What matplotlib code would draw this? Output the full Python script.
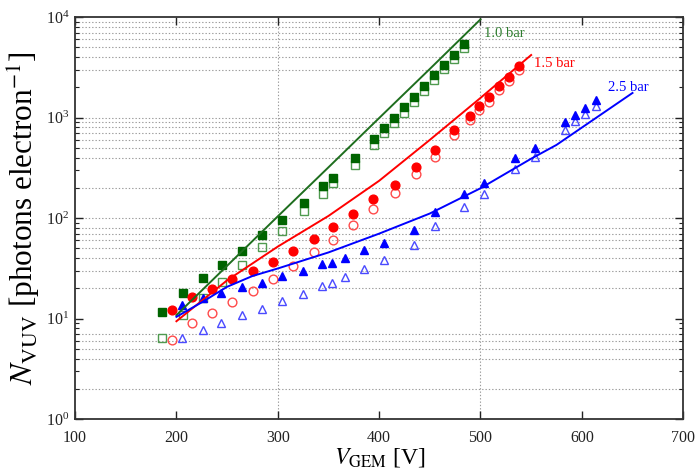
import matplotlib
matplotlib.use("Agg")
import matplotlib.pyplot as plt
from matplotlib.ticker import LogLocator, FixedLocator, NullFormatter, LogFormatterMathtext

plt.rcParams['font.family'] = ['Liberation Serif', 'DejaVu Serif']
plt.rcParams['mathtext.fontset'] = 'stix'

# ---- data: 1.0 bar (green squares) ----
v_1bar = [185.4, 206.1, 226.4, 245.1, 265.2, 284.9, 304.6, 325.6, 344.6, 354.5, 375.9,
          394.6, 404.4, 414.3, 424.4, 434.3, 444.1, 454.0, 463.8, 473.7, 483.5]
n_1bar_filled = [11.7, 18.1, 25.1, 34.1, 47, 67.3, 95.5, 141, 208, 248, 395,
                 607, 792, 995, 1262, 1610, 2057, 2630, 3351, 4218, 5385]
n_1bar_open = [6.44, 10.8, 15.9, 23.2, 34.1, 51.1, 74.8, 116.6, 173, 221, 340,
               529, 696, 875, 1116, 1426, 1835, 2362, 3018, 3796, 4883]

# ---- data: 1.5 bar (red circles) ----
v_15bar = [195.3, 215.0, 234.7, 255.0, 275.7, 295.4, 315.1, 335.8, 354.5, 374.2, 393.9,
           415.3, 436.0, 454.7, 473.9, 489.2, 499.0, 508.2, 518.7, 528.6, 538.4]
n_15bar_filled = [12.2, 16.5, 19.8, 24.6, 29.8, 36.9, 47.5, 61.8, 81.9, 109.6, 153.5,
                  214, 324, 472, 756, 1042, 1301, 1588, 2071, 2546, 3252]
n_15bar_open = [6.11, 8.96, 11.4, 14.7, 18.9, 24.5, 33.3, 45.9, 60.8, 85.2, 122,
                176, 272, 407, 670, 944, 1188, 1436, 1879, 2307, 2970]

# ---- data: 2.5 bar (blue triangles) ----
v_25bar = [205.1, 226.4, 243.8, 265.2, 284.9, 304.6, 324.9, 344.0, 353.9, 366.0, 385.0,
           404.4, 434.3, 454.7, 484.2, 503.9, 534.2, 553.9, 583.7, 593.6, 603.4, 613.9]
n_25bar_filled = [13.6, 16.1, 17.8, 20.7, 22.7, 26.5, 29.9, 34.6, 36.1, 40.2, 48.0,
                  56.8, 76.9, 116, 173, 224, 395, 498, 896, 1059, 1244, 1494]
n_25bar_open = [6.35, 7.69, 9.09, 10.8, 12.4, 14.9, 17.5, 21.1, 22.4, 25.7, 31.1,
                38.2, 53.5, 83.8, 129, 175, 310, 402, 751, 923, 1083, 1310]

# ---- model curves ----
v_model_1bar = [200, 250, 300, 350, 400, 450, 500]
n_model_1bar = [10.8, 33.5, 104, 320, 990, 3050, 9500]
v_model_15bar = [200, 250, 300, 350, 400, 450, 500, 550]
n_model_15bar = [9.4, 24, 52, 105, 235, 600, 1570, 4200]
v_model_25bar = [200, 225, 250, 275, 300, 350, 400, 450, 500, 550, 575, 650]
n_model_25bar = [10.4, 14.5, 20.7, 26.5, 31.5, 45.5, 70, 111, 198, 390, 535, 1760]

labels = ['1.0 bar', '1.5 bar', '2.5 bar']
label_pos_v = [503, 553, 626]
label_pos_n = [6900, 3450, 2000]

x_ticks = [100, 200, 300, 400, 500, 600, 700]
y_grid = [2, 4, 5, 6, 7, 20, 30, 40, 50, 60, 70, 80, 100, 200, 400, 500, 600, 700, 800,
          900, 1000, 3000, 4000, 5000, 6000, 7000, 8000, 9000]
x_grid = [300, 500]

green_dark = '#006400'
green_open = '#4f9a4f'
red = '#ff0000'
red_open = '#ff4a4a'
blue = '#0000ff'
blue_open = '#4a4aff'

fig = plt.figure(figsize=(6.95, 4.70), dpi=100)
ax = fig.add_axes([0.108, 0.1085, 0.875, 0.855])

ax.set_xscale('linear')
ax.set_yscale('log')
ax.set_xlim(100, 700)
ax.set_ylim(1, 1e4)

for g in y_grid:
    ax.axhline(g, color='#9a9a9a', lw=0.8, ls=(0, (1.2, 1.8)), zorder=0)
for g in x_grid:
    ax.axvline(g, color='#9a9a9a', lw=0.8, ls=(0, (1.2, 1.8)), zorder=0)

ms = 6.3
# open markers first
ax.plot(v_1bar, n_1bar_open, ls='none', marker='s', ms=ms, mfc='none', mec=green_open, mew=1.0, zorder=2)
ax.plot(v_15bar, n_15bar_open, ls='none', marker='o', ms=ms, mfc='none', mec=red_open, mew=1.0, zorder=2)
ax.plot(v_25bar, n_25bar_open, ls='none', marker='^', ms=ms, mfc='none', mec=blue_open, mew=1.0, zorder=2)
# filled markers
ax.plot(v_1bar, n_1bar_filled, ls='none', marker='s', ms=ms, mfc=green_dark, mec=green_dark, zorder=3)
ax.plot(v_15bar, n_15bar_filled, ls='none', marker='o', ms=ms, mfc=red, mec=red, zorder=3)
ax.plot(v_25bar, n_25bar_filled, ls='none', marker='^', ms=ms, mfc=blue, mec=blue, zorder=3)

# model lines
ax.plot(v_model_1bar, n_model_1bar, color='#1e6e1e', lw=1.4, zorder=4)
ax.plot(v_model_15bar, n_model_15bar, color=red, lw=1.4, zorder=4)
ax.plot(v_model_25bar, n_model_25bar, color=blue, lw=1.4, zorder=4)

for lab, vx, ny, c in zip(labels, label_pos_v, label_pos_n, ['#2e7d2e', red, blue]):
    ax.text(vx, ny, lab, color=c, fontsize=10.5, ha='left', va='center')

ax.xaxis.set_major_locator(FixedLocator(x_ticks))
ax.yaxis.set_major_locator(LogLocator(base=10, numticks=10))
ax.yaxis.set_minor_locator(LogLocator(base=10, subs=range(2, 10), numticks=20))
ax.yaxis.set_major_formatter(LogFormatterMathtext())
ax.yaxis.set_minor_formatter(NullFormatter())

ax.tick_params(which='both', direction='in', top=True, right=True, colors='#222222',
               labelsize=11.5)
ax.tick_params(which='major', length=6, width=1.0)
ax.tick_params(which='minor', length=3, width=0.8)
ax.tick_params(axis='x', pad=8)
ax.tick_params(axis='y', pad=4)

for s in ax.spines.values():
    s.set_linewidth(1.3)
    s.set_color('#333333')

ax.set_xlabel(r'$V_{\mathrm{GEM}}$ [V]', fontsize=17, labelpad=0)
ax.set_ylabel(r'$N_{\mathrm{VUV}}$ [photons electron$^{-1}$]', fontsize=22.5, labelpad=2)

fig.savefig('out.png', dpi=100)
